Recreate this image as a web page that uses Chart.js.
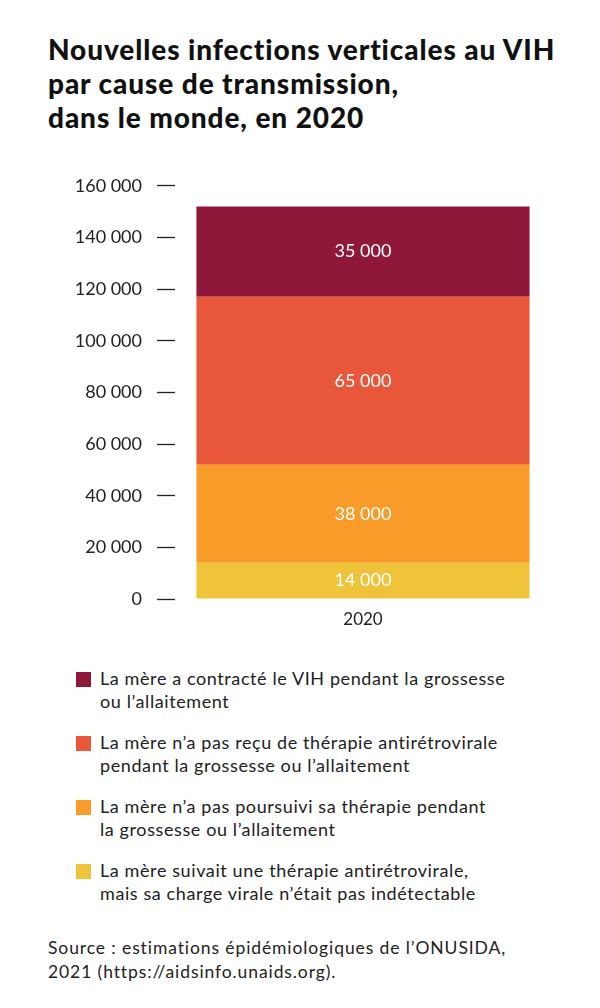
<!DOCTYPE html>
<html><head><meta charset="utf-8">
<script src="https://cdn.jsdelivr.net/npm/chart.js@4/dist/chart.umd.min.js"></script>
<style>
body{margin:0;width:600px;height:1008px;background:#fff;font-family:Lato,"Noto Sans",sans-serif;color:#222;position:relative;overflow:hidden}
h1{position:absolute;left:48px;top:32px;margin:0;font-size:28px;line-height:34px;font-weight:900;color:#111;letter-spacing:0.9px;white-space:nowrap}
#wrap{position:absolute;left:0;top:160px;width:600px;height:480px}
.leg{position:absolute;left:76px;font-size:18px;line-height:23px;color:#222;letter-spacing:0.6px;white-space:nowrap}
.leg span{position:absolute;left:0;top:5px;width:15px;height:15px}
.leg div{margin-left:24px}
#src{position:absolute;left:48px;top:936px;font-size:17.5px;line-height:24px;color:#222;letter-spacing:0.9px;white-space:nowrap}
</style></head><body>
<h1>Nouvelles infections verticales au VIH<br>par cause de transmission,<br>dans le monde, en 2020</h1>
<div id="wrap"><canvas id="c"></canvas></div>
<div id="legend"></div>
<div id="src">Source : estimations épidémiologiques de l’ONUSIDA,<br>2021 (https://aidsinfo.unaids.org).</div>
<script>
var annees = ["2020"];
var causes = [
  "La mère suivait une thérapie antirétrovirale,<br>mais sa charge virale n’était pas indétectable",
  "La mère n’a pas poursuivi sa thérapie pendant<br>la grossesse ou l’allaitement",
  "La mère n’a pas reçu de thérapie antirétrovirale<br>pendant la grossesse ou l’allaitement",
  "La mère a contracté le VIH pendant la grossesse<br>ou l’allaitement"
];
var valeurs = [14000, 38000, 65000, 35000];
var couleurs = ["#EFC43B", "#F89B29", "#E8573A", "#8F1839"];
var legendeTop = [667, 731, 795, 859];

function fmt(v){ return String(v).replace(/\B(?=(\d{3})+(?!\d))/g, " "); }

var datasets = [];
for (var i = 0; i < valeurs.length; i++) {
  datasets.push({label: causes[i], data: [valeurs[i]], backgroundColor: couleurs[i],
    categoryPercentage: 1, barPercentage: 0.886});
}

var etiquettes = {
  id: "etiquettes",
  afterDatasetsDraw: function(chart){
    var ctx = chart.ctx;
    ctx.save();
    ctx.fillStyle = "#fff";
    ctx.font = "18px Lato";
    ctx.textAlign = "center";
    ctx.textBaseline = "middle";
    chart.data.datasets.forEach(function(ds, i){
      var bar = chart.getDatasetMeta(i).data[0];
      ctx.fillText(fmt(ds.data[0]), bar.x, (bar.y + bar.base)/2);
    });
    ctx.restore();
  }
};

new Chart(document.getElementById("c"), {
  type: "bar",
  data: {labels: annees, datasets: datasets},
  plugins: [etiquettes],
  options: {
    responsive: true, maintainAspectRatio: false, animation: false,
    layout: {padding: {top: 17, right: 49}},
    plugins: {legend: {display: false}, tooltip: {enabled: false}},
    scales: {
      x: {stacked: true,
        grid: {display: false}, border: {display: false},
        ticks: {color: "#222", font: {family: "Lato", size: 17}, padding: 2},
        afterFit: function(s){ s.height = 41; }},
      y: {stacked: true, min: 0, max: 160000,
        border: {display: false},
        grid: {drawOnChartArea: false, drawTicks: true, tickLength: 18, color: "#222", tickWidth: 1.3},
        ticks: {stepSize: 20000, color: "#222", font: {family: "Lato", size: 18}, padding: 15,
          callback: function(v){ return fmt(v); }},
        afterFit: function(s){ s.width = 175; }}
    }
  }
});

var leg = document.getElementById("legend");
for (var j = couleurs.length - 1; j >= 0; j--) {
  var d = document.createElement("div");
  d.className = "leg";
  d.style.top = legendeTop[3 - j] + "px";
  d.innerHTML = '<span style="background:' + couleurs[j] + '"></span><div>' + causes[j] + '</div>';
  leg.appendChild(d);
}
</script>
</body></html>
